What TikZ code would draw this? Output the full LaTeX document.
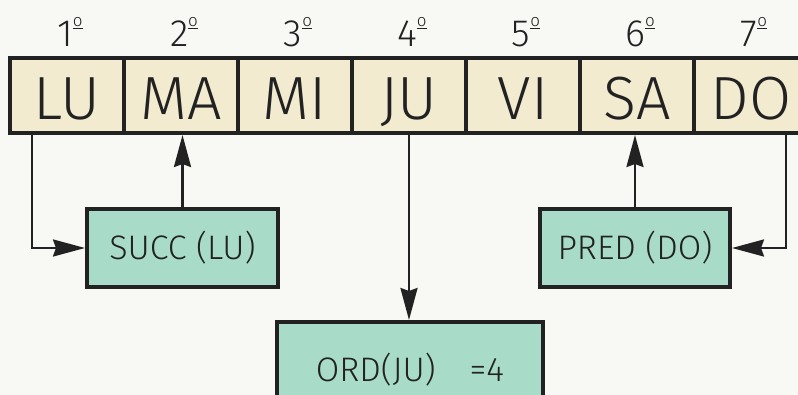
\documentclass[tikz,border=0pt]{standalone}
\usepackage{fontspec}
\setmainfont{Fira Sans}[UprightFont=* Light]
\usetikzlibrary{arrows.meta}
\definecolor{cream}{HTML}{F2EBD0}
\definecolor{teal}{HTML}{A8DCC8}
\definecolor{paper}{HTML}{F8F8F5}
\definecolor{ink}{HTML}{222222}
\newcommand{\ordo}{\raisebox{20pt}{\fontsize{17}{17}\selectfont\underline{o}}}
\begin{document}
\begin{tikzpicture}[x=1pt, y=-1pt, color=ink,
		daycell/.style={draw, line width=4pt, fill=cream, minimum width=114pt, minimum height=75pt, inner sep=0pt, text height=49pt, text depth=0pt, font=\fontsize{61}{61}\selectfont},
		opbox/.style={draw, line width=4pt, fill=teal, minimum height=78pt, inner sep=0pt, font=\fontsize{34}{34}\selectfont},
		arr/.style={line width=2.5pt, -{Stealth[length=32pt, width=17pt, inset=3pt]}}]
			\fill[paper] (0,0) rectangle (798,395);
			\useasboundingbox (0,0) rectangle (798,395);
			\foreach \d [count=\i] in {LU,MA,MI,JU,VI,SA,DO} {
				\node[daycell] (d\i) at ({67+114*(\i-1)},95.5) {\d};
				\node[font=\fontsize{38}{38}\selectfont, anchor=base] (o\i) at ({70+114*(\i-1)},47) {\i\ordo};
			}
			\node[opbox, minimum width=191pt] (succ) at (182.5,248) {SUCC (LU)};
			\node[opbox, minimum width=190pt] (pred) at (635,248) {PRED (DO)};
			\node[opbox, minimum width=266pt, minimum height=90pt, text depth=0pt] (ord) at (410,367) {ORD(JU)\quad =4};
			\draw[arr] ([xshift=-35pt]d1.south) |- (succ.west);
			\draw[arr] (succ.north) -- (succ.north |- d2.south);
			\draw[arr] (d4.south) -- (d4.south |- ord.north);
			\draw[arr] (pred.north) -- (pred.north |- d6.south);
			\draw[arr] ([xshift=35pt]d7.south) |- (pred.east);
		\end{tikzpicture}
\end{document}
